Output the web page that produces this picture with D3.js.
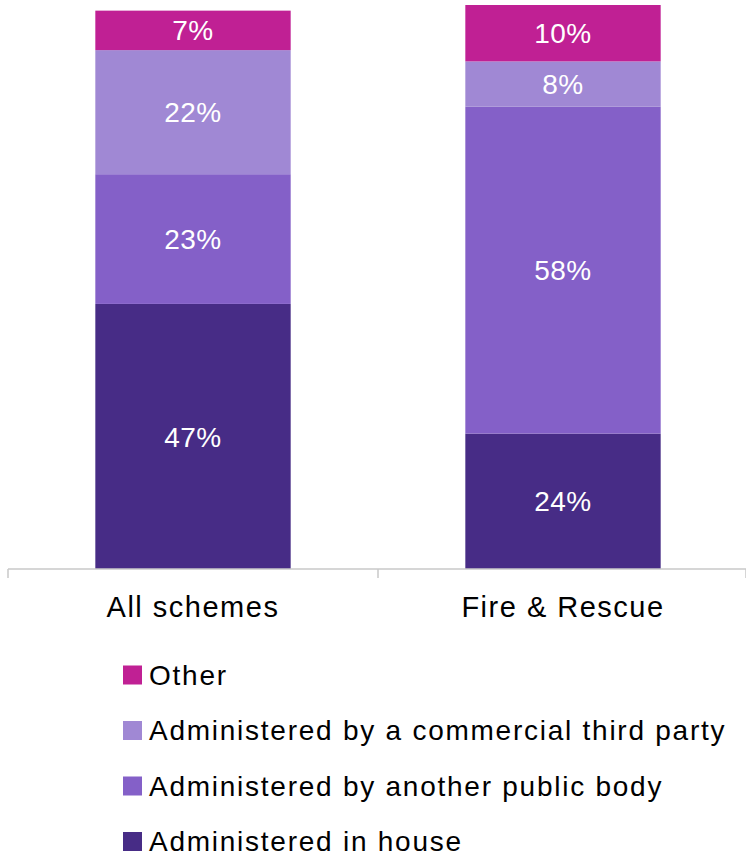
<!DOCTYPE html>
<html>
<head>
<meta charset="utf-8">
<script src="https://cdn.jsdelivr.net/npm/d3@7"></script>
<style>
  body { margin: 0; background: #fff; }
  svg { display: block; font-family: "Liberation Sans", Arial, sans-serif; }
</style>
</head>
<body>
<svg id="chart" width="746" height="856"></svg>
<script>
const categories = ['All schemes', 'Fire & Rescue'];
const seriesNames = ['Administered in house', 'Administered by another public body', 'Administered by a commercial third party', 'Other'];
const inHouse = [47, 24];
const publicBody = [23, 58];
const commercial = [22, 8];
const other = [7, 10];
const colors = ['#472c86', '#8460c8', '#a088d4', '#c02094'];

const svg = d3.select('#chart');
const baseline = 569;

const x = d3.scaleBand().domain(categories).range([8, 748]).padding(0);
const y = d3.scaleLinear().domain([0, 100]).range([baseline, 5]);
const barW = x.bandwidth() * 0.528;

const rows = categories.map((c, i) => ({
  cat: c,
  [seriesNames[0]]: inHouse[i],
  [seriesNames[1]]: publicBody[i],
  [seriesNames[2]]: commercial[i],
  [seriesNames[3]]: other[i]
}));
const stacked = d3.stack().keys(seriesNames)(rows);

const layers = svg.append('g').selectAll('g').data(stacked).join('g')
  .attr('fill', (d, i) => colors[i]);

layers.selectAll('rect').data(d => d).join('rect')
  .attr('x', d => x(d.data.cat) + (x.bandwidth() - barW) / 2)
  .attr('width', barW)
  .attr('y', d => y(d[1]))
  .attr('height', d => y(d[0]) - y(d[1]));

layers.selectAll('text').data(d => d).join('text')
  .attr('x', d => x(d.data.cat) + x.bandwidth() / 2)
  .attr('y', d => (y(d[0]) + y(d[1])) / 2)
  .attr('dy', '0.36em')
  .attr('text-anchor', 'middle')
  .attr('fill', '#fff')
  .attr('font-size', 28)
  .attr('letter-spacing', '0.5px')
  .text(d => (d[1] - d[0]) + '%');

// axis
const axis = svg.append('g').attr('transform', `translate(0,${baseline})`);
axis.append('line').attr('x1', 8).attr('x2', 746).attr('stroke', '#c8c8c8').attr('stroke-width', 1.5);
const bounds = [8, x(categories[1]), 746];
axis.selectAll('.tk').data(bounds).join('line')
  .attr('x1', d => d).attr('x2', d => d).attr('y1', 0).attr('y2', 9)
  .attr('stroke', '#c8c8c8').attr('stroke-width', 1.5);
axis.selectAll('.lbl').data(categories).join('text')
  .attr('x', d => x(d) + x.bandwidth() / 2)
  .attr('y', 48)
  .attr('text-anchor', 'middle')
  .attr('font-size', 29)
  .attr('letter-spacing', '1.5px')
  .attr('fill', '#000')
  .text(d => d);

// legend, top to bottom: Other first
const legendItems = seriesNames.map((n, i) => ({ name: n, color: colors[i] })).reverse();
const legend = svg.append('g').selectAll('g').data(legendItems).join('g')
  .attr('transform', (d, i) => `translate(123,${675 + i * 55.5})`);
legend.append('rect').attr('x', 0).attr('y', -9.5).attr('width', 19).attr('height', 19)
  .attr('fill', d => d.color);
legend.append('text').attr('x', 26).attr('y', 0).attr('dy', '0.34em')
  .attr('font-size', 28).attr('letter-spacing', '1.75px').attr('fill', '#000')
  .text(d => d.name);
</script>
</body>
</html>
